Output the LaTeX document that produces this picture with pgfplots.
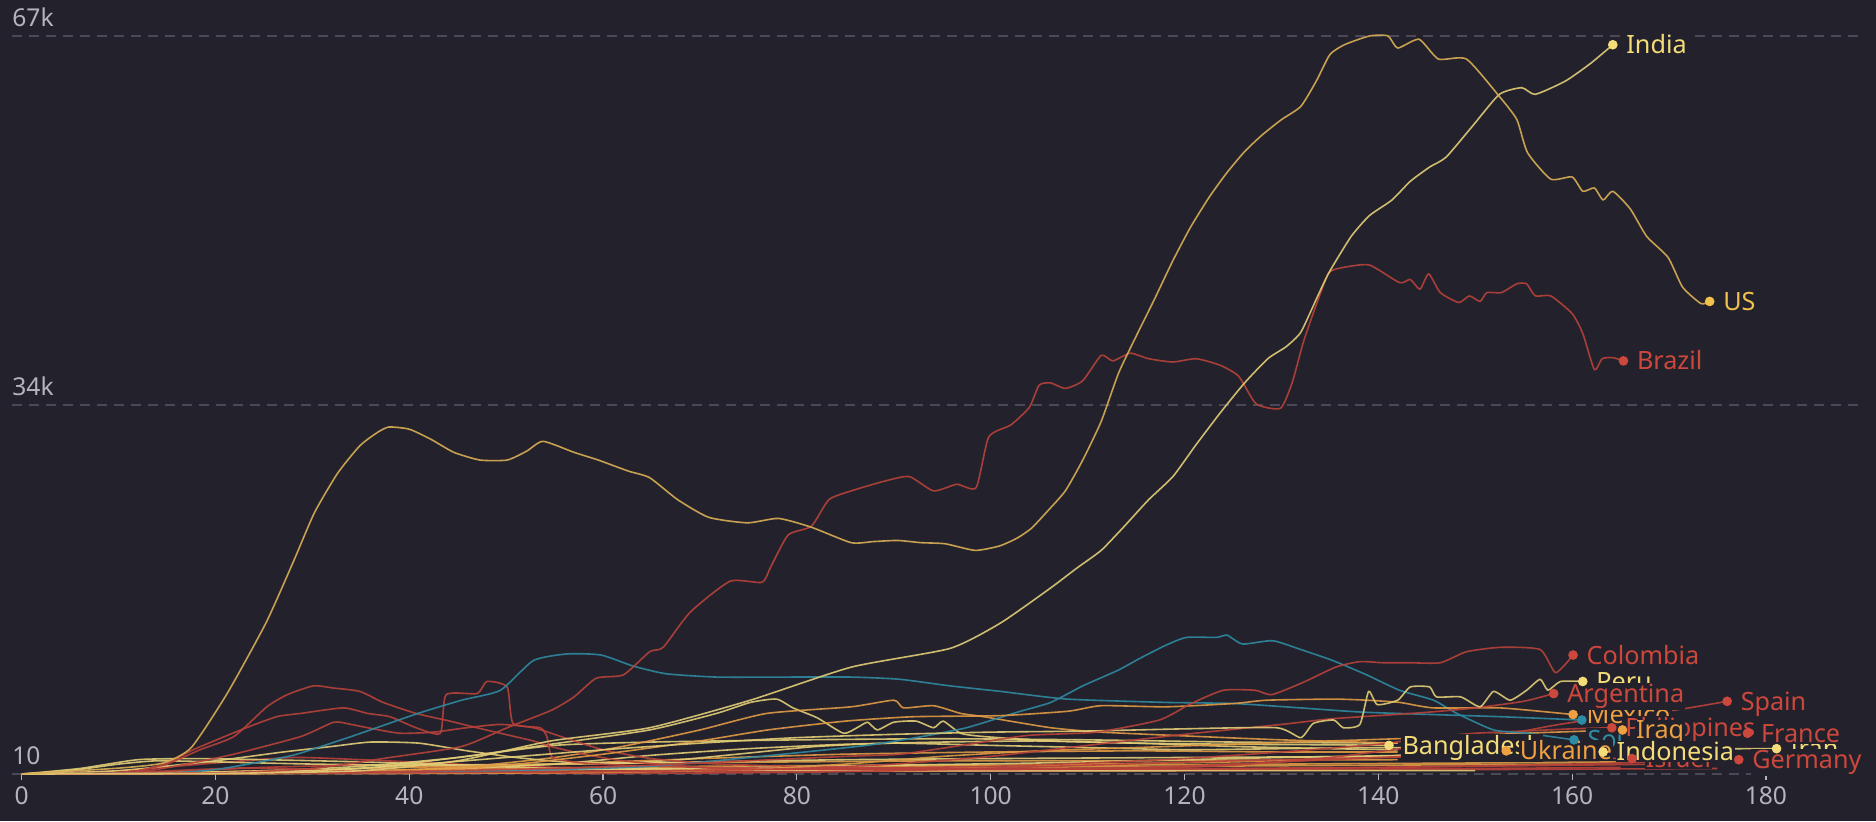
\documentclass[border=0pt]{standalone}
\usepackage{fontspec}
\setmainfont{Noto Sans}
\usepackage{pgfplots}
\pgfplotsset{compat=1.18}

\definecolor{bgc}{HTML}{23222C}
\definecolor{gridc}{HTML}{4A4955}
\definecolor{tickc}{HTML}{B4B4BE}
\definecolor{lYel}{HTML}{E2CD76}
\definecolor{tYel}{HTML}{F4DC78}
\definecolor{lUS}{HTML}{D9AE55}
\definecolor{tUS}{HTML}{F2C14D}
\definecolor{lOra}{HTML}{E09A45}
\definecolor{tOra}{HTML}{EFA040}
\definecolor{lRed}{HTML}{B8423A}
\definecolor{tRed}{HTML}{CC473C}
\definecolor{lTeal}{HTML}{2F8AA2}
\definecolor{tTeal}{HTML}{2E8CA6}

\pgfplotsset{
  ln/.style={line width=0.8pt, opacity=0.9, line join=round, smooth, tension=0.35},
}
% end dot and label of a country
\newcommand{\dotp}[3]{\addplot[only marks, mark=*, mark size=2.2pt, color=#1, mark options={draw=none}] coordinates {(#2,#3)};}
\newcommand{\lab}[4]{\node[anchor=base west, text=#1, fill=bgc, inner sep=0.6pt,
  font=\fontsize{12.6}{15}\selectfont, xshift=6pt, yshift=-4.5pt] at (axis cs:#2,#3) {#4};}

\begin{document}
\begin{tikzpicture}
\fill[bgc] (-6pt,-23.5pt) rectangle (932pt,387pt);
\begin{axis}[
  scale only axis, width=925.4pt, height=374.55pt,
  xmin=-1, xmax=190, ymin=0, ymax=68000,
  clip=false,
  axis line style={draw=none},
  xtick={0,20,...,180},
  ytick={10,33505,67000}, yticklabels={,,},
  yticklabel style={overlay, inner sep=0pt},
  ymajorgrids,
  grid style={color=gridc, line width=0.7pt, dash pattern=on 5pt off 3.5pt},
  tick align=outside, xtick pos=bottom, ytick pos=left,
  major tick length=3pt,
  xtick style={color=tickc, line width=0.6pt},
  ytick style={draw=none},
  xticklabel style={text=tickc, font=\fontsize{12.3}{15}\selectfont},
  /pgf/number format/assume math mode=true,
  scaled y ticks=false,
]

% ---- low, unlabelled series
\addplot[ln, lOra] coordinates {(0,0)(20,150)(40,300)(60,400)(80,500)(100,600)(120,700)(140,800)(160,900)};
\addplot[ln, lRed] coordinates {(0,0)(30,100)(60,200)(90,250)(120,300)(150,400)(175,500)};
\addplot[ln, lOra] coordinates {(0,0)(30,200)(50,500)(70,700)(90,800)(110,800)(130,900)(150,1000)(165,1100)};
\addplot[ln, lRed] coordinates {(0,0)(15,200)(25,600)(35,800)(45,600)(60,400)(80,300)(100,300)(120,400)(140,600)(160,800)(170,900)};
\addplot[ln, lRed] coordinates {(0,0)(10,300)(20,1000)(28,1500)(35,1300)(45,900)(55,600)(70,400)(90,300)(110,300)(130,400)(150,500)(165,600)};
\addplot[ln, lYel] coordinates {(0,0)(6,500)(12,1300)(18,1400)(25,1300)(35,1100)(45,800)(55,500)(70,400)(90,300)(120,300)(150,300)};
\addplot[ln, lOra] coordinates {(0,0)(20,200)(35,500)(50,800)(65,1000)(80,1100)(95,1200)(110,1200)(125,1250)(142,1300)};
\addplot[ln, lYel] coordinates {(0,0)(5,300)(10,900)(14,1200)(20,1100)(30,900)(40,800)(55,900)(70,1100)(85,1300)(100,1400)(120,1500)(142,1600)};
\addplot[ln, lOra] coordinates {(0,0)(25,100)(40,400)(55,900)(70,1400)(85,1800)(100,2000)(115,2100)(130,2000)(142,2000)};
\addplot[ln, lYel] coordinates {(0,0)(20,100)(35,500)(45,1500)(55,2600)(65,2900)(80,3100)(95,3200)(110,3100)(125,2900)(142,2800)};
\addplot[ln, lYel] coordinates {(0,0)(15,100)(25,300)(35,700)(45,1500)(54.6,2700)(64.8,4000)(71.7,5500)(75.2,6500)(77.9,6800)(79.6,6000)(82.1,5100)(84.8,3700)(86.2,4200)(87.3,4700)(88.3,4000)(90,4700)(92.3,4800)(94.1,4200)(95.1,4800)(96.9,3700)(99.3,3400)(106.2,3000)(115,2800)(125,2500)(135,2300)(142,2200)};
\addplot[ln, lOra] coordinates {(0,0)(30,100)(45,600)(55,1500)(62,2500)(70,4000)(76.9,5500)(85.6,6100)(90,6700)(91,6000)(94.1,6200)(96.9,5500)(99.3,5200)(106.2,4200)(111.4,3800)(121.6,3400)(130,3100)(142,2800)};

% ---- labelled series
% Bangladesh
\addplot[ln, lYel] coordinates {(0,0)(25,50)(40,300)(55,900)(65,1700)(75,2300)(85,2700)(95,2900)(105,3000)(115,2800)(125,2700)(135,2650)(141.1,2600)};
% Ukraine
\addplot[ln, lOra] coordinates {(0,0)(20,60)(35,250)(50,450)(65,550)(80,600)(95,700)(110,900)(125,1100)(135,1400)(145,1800)(153.2,2100)};
% Israel
\addplot[ln, lRed] coordinates {(0,0)(10,100)(18,400)(23,550)(28,450)(35,250)(45,100)(60,50)(80,150)(95,400)(110,800)(125,1200)(140,1500)(150,1600)(158,1500)(166.2,1400)};
% Indonesia
\addplot[ln, lYel] coordinates {(0,0)(15,30)(30,150)(45,300)(60,450)(75,600)(90,800)(105,1000)(120,1300)(130,1500)(140,1650)(150,1800)(158,1900)(163.2,2000)};
% Iran
\addplot[ln, lYel] coordinates {(0,0)(10,300)(20,1200)(27,2000)(32,2500)(36,2900)(41,2800)(46,2100)(51,1500)(56,1100)(62,1000)(68,1300)(75,1900)(82,2500)(90,2800)(100,2600)(110,2400)(120,2200)(130,2300)(140,2400)(150,2300)(160,2400)(170,2300)(181.1,2300)};
% Germany
\addplot[ln, lRed] coordinates {(0,0)(8,50)(13,300)(17,900)(21.9,1800)(28.8,3400)(32.2,4700)(34,4500)(35.7,4200)(39,3700)(42.5,3800)(45.9,4200)(49.4,4500)(52.8,4200)(56,3300)(60,2200)(65,1400)(72,900)(85,600)(100,500)(120,500)(140,600)(155,800)(165,1000)(177.2,1300)};
% France
\addplot[ln, lRed] coordinates {(0,0)(8,50)(12,300)(15,1000)(17.7,2200)(22.6,4000)(26.3,5200)(28.8,5500)(33.2,6000)(35.7,5500)(38,5200)(40.7,4200)(43.2,3700)(43.8,7200)(47,7300)(48,8400)(50.1,7900)(50.7,4600)(53.5,4200)(54.2,3400)(54.8,1500)(58,1000)(65,700)(80,500)(100,450)(115,600)(125,900)(135,1300)(145,1700)(155,2200)(165,2800)(172,3300)(178.1,3700)};
% Spain
\addplot[ln, lRed] coordinates {(0,0)(8,50)(12,300)(15,900)(18.4,2200)(21.9,3400)(25.3,6100)(27.4,7200)(30.1,8000)(32.2,7800)(34.9,7500)(37.3,6500)(40.7,5500)(44.2,4800)(46.5,4300)(49.4,3700)(52.8,3000)(54.6,2500)(58,1800)(62,1200)(67,800)(72,500)(85,400)(100,400)(115,500)(125,800)(135,1500)(145,2600)(152,3400)(158,4400)(164,5200)(170.6,5800)(176,6600)};
% Philippines
\addplot[ln, lRed] coordinates {(0,0)(20,50)(40,200)(60,250)(80,450)(100,700)(110,1000)(120,1400)(130,2000)(140,2700)(145,3300)(150,3700)(155,3900)(160,4100)(164.1,4200)};
% Iraq
\addplot[ln, lOra] coordinates {(0,0)(40,50)(60,150)(75,400)(85,900)(95,1600)(105,2100)(115,2400)(125,2700)(135,3000)(145,3300)(155,3700)(165.2,4000)};
% South Africa
\addplot[ln, lTeal] coordinates {(0,0)(30,100)(50,300)(65,700)(78.6,1800)(87.2,2600)(92.3,3300)(97.5,4200)(102.7,5600)(106.2,6500)(109.5,8000)(113.1,9400)(115.4,10500)(118.1,11700)(120.2,12400)(123.3,12400)(124.4,12600)(126,11800)(129.1,12100)(132,11300)(135.3,10300)(138.8,9000)(142.2,7600)(145.7,6700)(148.1,5500)(151.9,4000)(155.3,3700)(160.2,3100)};
% Russia
\addplot[ln, lTeal] coordinates {(0,0)(15,100)(20,400)(24.6,1100)(28.4,1800)(34,3400)(40.9,5500)(45.4,6700)(49.4,7600)(52.8,10300)(56.3,10900)(59.8,10800)(63.1,9800)(66.5,9100)(71.7,8800)(78.6,8800)(85.6,8800)(90.6,8600)(95.8,8000)(101,7500)(107.9,6800)(118.1,6500)(125.1,6400)(132,6000)(138.8,5600)(152.6,5200)(161,4900)};
% Mexico
\addplot[ln, lOra] coordinates {(0,0)(20,50)(40,300)(50,800)(60,1800)(70,3000)(77,4000)(85,4800)(92,5200)(101,5300)(108,5700)(111.4,6200)(118.1,6100)(125.1,6400)(128.5,6700)(135.4,6800)(138.8,6700)(142.2,6500)(145.7,6000)(152.6,6000)(160.1,5400)};
% Argentina
\addplot[ln, lRed] coordinates {(0,0)(30,80)(50,150)(65,250)(80,500)(90,900)(100,1600)(110,2600)(120,3600)(130,4500)(135,5000)(140,5300)(145,5600)(150,6000)(155,6600)(158.1,7300)};
% Peru
\addplot[ln, lYel] coordinates {(0,0)(20,100)(30,300)(40,800)(50,1500)(60,2200)(70,2800)(80,3300)(90,3600)(100,3800)(110,3900)(120,4100)(129.5,4200)(132,3300)(133.3,4600)(135.4,4900)(136.4,4200)(138.1,4500)(139,7500)(139.9,6300)(142,6700)(143.3,7900)(145.3,7900)(146,7000)(148.5,7000)(150.5,6100)(151.9,7500)(153.6,6700)(155.3,7600)(156.7,8600)(157.5,7600)(158.8,8400)(161.1,8400)};
% Colombia
\addplot[ln, lRed] coordinates {(0,0)(20,60)(40,250)(55,500)(65,800)(75,1200)(85,1600)(90.7,1800)(97,2600)(103.8,3500)(110.9,3800)(117.4,4900)(120.7,6400)(124,7600)(127.3,7600)(129,7200)(132.2,8300)(135.6,9700)(138.1,10200)(140.5,10100)(143.1,10100)(146.4,10100)(149.1,11100)(152.6,11500)(156.7,11300)(158.3,9200)(160.1,10800)};
% Brazil
\addplot[ln, lRed] coordinates {(0,0)(20,100)(30,500)(38,1500)(45.4,2500)(50.1,4200)(54.7,5800)(57,7000)(59.3,8700)(62.1,9000)(64.8,11100)(66.2,11500)(69,14700)(73.1,17500)(76.4,17400)(77.3,18800)(79.1,21700)(81.5,22500)(83.3,24900)(85.6,25700)(89.1,26600)(91.6,27000)(94.1,25700)(96.5,26300)(98.5,26000)(99.8,30600)(102.1,31700)(104,33300)(105,35300)(106.2,35500)(107.7,35000)(109.5,35700)(111.4,38000)(112.6,37500)(114.4,38200)(116.3,37700)(118.8,37400)(121.2,37700)(123.7,37100)(125.6,36100)(127.4,33600)(129.9,33200)(131.1,35500)(132.3,39300)(133.6,42600)(134.9,45500)(136.5,46000)(139.1,46200)(142.2,44600)(143.3,44900)(144.3,44000)(145.2,45400)(146.4,43700)(148.3,42800)(149.4,43400)(150.5,42900)(151.2,43700)(152.7,43700)(154.3,44500)(155.3,44500)(156.2,43400)(157.8,43400)(160,41800)(161.1,40000)(162.3,36700)(163.1,37700)(164.2,37800)(165.3,37500)};
% India
\addplot[ln, lYel] coordinates {(0,0)(20,50)(35,300)(45,1200)(54.6,3000)(64.8,4200)(75.2,6700)(85.6,9700)(95.8,11400)(101,13700)(106.2,16900)(108.9,18700)(111.4,20300)(113.8,22500)(116.3,24900)(118.8,27000)(121.2,29900)(123.7,32800)(126.2,35500)(128.6,37700)(130.5,38800)(132,40100)(133.6,43100)(134.9,45500)(137.2,48800)(139.1,50700)(141.4,52100)(143.3,53800)(145.3,55100)(147,56000)(149.8,58900)(152.5,61700)(154.8,62300)(156.2,61700)(159.3,62900)(161.9,64500)(164.2,66200)};
% US
\addplot[ln, lUS] coordinates {(0,0)(10.1,540)(14.6,1000)(17.5,2400)(21.2,7300)(25.2,13700)(28,19200)(30.2,23700)(32.6,27300)(34.9,29800)(36.7,31000)(37.9,31500)(40,31300)(42.2,30400)(44.6,29200)(47.3,28500)(50.1,28500)(52.1,29300)(53.8,30200)(57,29200)(59.5,28500)(62.6,27500)(64.8,26900)(67.7,24900)(70.9,23300)(74.9,22800)(78.1,23200)(81.5,22400)(85.6,21000)(87.9,21100)(90.4,21200)(92.8,21000)(95.3,20900)(98.4,20300)(100.9,20700)(102.7,21400)(104.2,22300)(105.8,23800)(107.7,25700)(109.5,28500)(111.4,32000)(113.2,36400)(115.1,39900)(116.9,43100)(118.8,46600)(120.6,49600)(122.5,52300)(124.3,54500)(126.2,56500)(128,58000)(130,59400)(132,60600)(133.6,62900)(135,65300)(136.5,66200)(139.1,67000)(141,67000)(142,65900)(144.2,66700)(146.2,64900)(149.1,64900)(152.5,61500)(154.3,59400)(155.4,56400)(157.8,54000)(160,54200)(161.1,52900)(162.3,53200)(163.2,52100)(164.2,52900)(166,51300)(167.7,48800)(169.9,46900)(171.4,44200)(173.3,42700)(174.2,42900)};

% ---- end dots and labels (later ones lie on top)
\dotp{tTeal}{161}{4900}
\dotp{tYel}{161.1}{8400}   \lab{tYel}{161.1}{8400}{Peru}
\dotp{tOra}{160.1}{5400}   \lab{tOra}{160.1}{5400}{Mexico}
\dotp{tTeal}{160.2}{3100}  \lab{tTeal}{160.2}{3100}{South Africa}
\dotp{tRed}{164.1}{4200}   \lab{tRed}{164.1}{4200}{Philippines}
\dotp{tOra}{165.2}{4000}   \lab{tOra}{165.2}{4000}{Iraq}
\dotp{tRed}{166.2}{1400}   \lab{tRed}{166.2}{1400}{Israel}
\dotp{tYel}{163.2}{2000}   \lab{tYel}{163.2}{2000}{Indonesia}
\dotp{tYel}{141.1}{2600}   \lab{tYel}{141.1}{2600}{Bangladesh}
\dotp{tOra}{153.2}{2100}   \lab{tOra}{153.2}{2100}{Ukraine}
\dotp{tYel}{181.1}{2300}   \lab{tYel}{181.1}{2300}{Iran}
\dotp{tRed}{177.2}{1300}   \lab{tRed}{177.2}{1300}{Germany}
\dotp{tRed}{178.1}{3700}   \lab{tRed}{178.1}{3700}{France}
\dotp{tRed}{176}{6600}     \lab{tRed}{176}{6600}{Spain}
\dotp{tRed}{158.1}{7300}   \lab{tRed}{158.1}{7300}{Argentina}
\dotp{tRed}{160.1}{10800}  \lab{tRed}{160.1}{10800}{Colombia}
\dotp{tRed}{165.3}{37500}  \lab{tRed}{165.3}{37500}{Brazil}
\dotp{tUS}{174.2}{42900}   \lab{tUS}{174.2}{42900}{US}
\dotp{tYel}{164.2}{66200}  \lab{tYel}{164.2}{66200}{India}

% y tick labels sit above their grid lines
\node[anchor=south west, inner sep=0pt, yshift=4.5pt, text=tickc, font=\fontsize{12.3}{15}\selectfont] at (axis cs:-1,67000) {67k};
\node[anchor=south west, inner sep=0pt, yshift=4.5pt, text=tickc, font=\fontsize{12.3}{15}\selectfont] at (axis cs:-1,33505) {34k};
\node[anchor=south west, inner sep=0pt, yshift=4.5pt, text=tickc, font=\fontsize{12.3}{15}\selectfont] at (axis cs:-1,10) {10};
\end{axis}
\end{tikzpicture}
\end{document}
